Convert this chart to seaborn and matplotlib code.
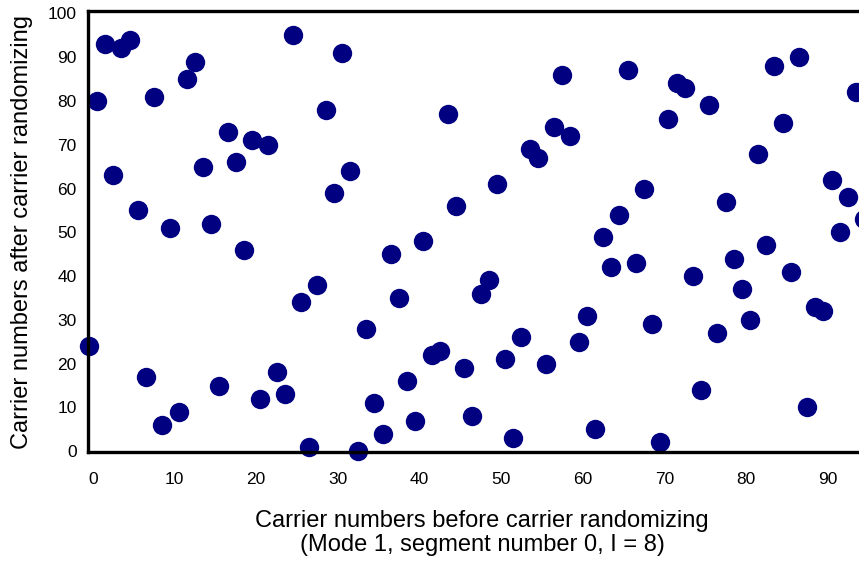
"""
Carrier randomizing map: carrier index before vs after randomizing.
"""
import matplotlib
matplotlib.use("Agg")
import matplotlib.pyplot as plt
import seaborn as sns
import numpy as np
import pandas as pd

# carrier numbers after randomizing, read left to right off the chart
after = [24, 80, 93, 63, 92, 94, 55, 17, 81, 6, 51, 9, 85, 89, 65, 52, 15, 73,
         66, 46, 71, 12, 70, 18, 13, 95, 34, 1, 38, 78, 59, 91, 64, 0, 28, 11,
         4, 45, 35, 16, 7, 48, 22, 23, 77, 56, 19, 8, 36, 39, 61, 21, 3, 26,
         69, 67, 20, 74, 86, 72, 25, 31, 5, 49, 42, 54, 87, 43, 60, 29, 2, 76,
         84, 83, 40, 14, 79, 27, 57, 44, 37, 30, 68, 47, 88, 75, 41, 90, 10,
         33, 32, 62, 50, 58, 82, 53]
before = np.arange(len(after)) - 0.5

xticks = [0, 10, 20, 30, 40, 50, 60, 70, 80, 90]
yticks = [0, 10, 20, 30, 40, 50, 60, 70, 80, 90, 100]

sns.set_theme(style="white")
plt.rcParams['font.family'] = ['Liberation Sans', 'DejaVu Sans']

df = pd.DataFrame({"before": before, "after": after})

fig = plt.figure(figsize=(8.59, 5.63), dpi=100)
ax = fig.add_axes([0.1024, 0.197, 0.918, 0.783])

sns.scatterplot(data=df, x="before", y="after", ax=ax, s=195,
                color="#000080", edgecolor="#000080", linewidth=0, clip_on=False)

ax.set_xlim(-0.6, 96)
ax.set_ylim(-0.2, 100.5)
ax.set_xticks(xticks)
ax.set_yticks(yticks)
ax.tick_params(axis="x", length=0, pad=14, labelsize=12.5, colors="black")
ax.tick_params(axis="y", length=0, pad=8, labelsize=12.5, colors="black")

for sp in ax.spines.values():
    sp.set_color("black")
    sp.set_linewidth(2.4)

ax.set_xlabel("Carrier numbers before carrier randomizing\n(Mode 1, segment number 0, I = 8)",
              fontsize=17, labelpad=17, linespacing=1.1, color="black")
ax.set_ylabel("Carrier numbers after carrier randomizing",
              fontsize=17, labelpad=11, color="black")
ax.grid(False)

fig.savefig("out.png", dpi=100)
